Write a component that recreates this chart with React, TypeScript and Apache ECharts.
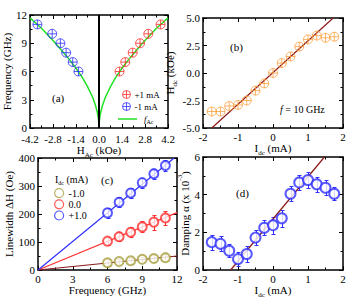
import React, { useEffect, useRef } from 'react';
import * as echarts from 'echarts';

// ---------- Panel (a) ----------
const plusH = [1.25, 1.6, 2.05, 2.5, 3.0, 3.75];
const plusF = [6, 7, 8, 9, 10, 11];
const minusH = [-3.75, -2.85, -2.35, -2.0, -1.6, -1.25];
const minusF = [11, 10, 9, 8, 7, 6];
const curveH = [-4.2, -3.5, -2.8, -2.2, -1.8, -1.4, -1.0, -0.7, -0.4, -0.2, -0.1, -0.05, -0.02, 0, 0.02, 0.05, 0.1, 0.2, 0.4, 0.7, 1.0, 1.4, 1.8, 2.2, 2.8, 3.5, 4.2];
const curveF = [11.7, 10.6, 9.3, 8.1, 7.26, 6.34, 5.32, 4.4, 3.32, 2.33, 1.64, 1.16, 0.73, 0, 0.73, 1.16, 1.64, 2.33, 3.32, 4.4, 5.32, 6.34, 7.26, 8.1, 9.3, 10.6, 11.7];
const zeroLineH = [0, 0];
const zeroLineF = [0, 12];

// ---------- Panel (b) ----------
const idcB = [-1.75, -1.5, -1.25, -1.0, -0.75, -0.5, -0.25, 0, 0.25, 0.5, 0.75, 1.0, 1.25, 1.5, 1.75];
const hdcB = [-3.5, -3.5, -3.0, -2.9, -2.5, -1.6, -0.95, 0.0, 0.9, 1.5, 2.4, 3.05, 3.4, 3.2, 3.3];
const fitBx = [-1.75, 1.72];
const fitBy = [-5, 5];

// ---------- Panel (c) ----------
const freqC = [6, 7, 8, 9, 10, 11];
const lwMinus = [26, 30, 33, 38, 41, 44];
const lwMinusErr = [12, 10, 10, 10, 12, 12];
const lwZero = [103, 119, 135, 154, 171, 186];
const lwZeroErr = [15, 15, 18, 20, 27, 25];
const lwPlus = [204, 242, 275, 312, 344, 373];
const lwPlusErr = [18, 18, 18, 18, 18, 20];
const fitCx = [0, 12];
const fitMinusY = [0, 50];
const fitZeroY = [0, 205];
const fitPlusX = [0, 11.75];
const fitPlusY = [0, 400];

// ---------- Panel (d) ----------
const idcD = [-1.75, -1.5, -1.25, -1.0, -0.75, -0.5, -0.25, 0, 0.25, 0.5, 0.75, 1.0, 1.25, 1.5, 1.75];
const alphaD = [1.48, 1.39, 1.02, 0.58, 0.85, 1.72, 2.24, 2.38, 2.75, 4.05, 4.65, 4.78, 4.55, 4.37, 4.05];
const alphaErr = [0.4, 0.4, 0.35, 0.35, 0.4, 0.4, 0.4, 0.45, 0.45, 0.4, 0.4, 0.4, 0.4, 0.4, 0.35];
const fitDx = [-1.21, 1.47];
const fitDy = [0, 6];

const FONT = 'Liberation Serif';
const RED = '#ff3030';
const BLUE = '#3030ff';
const GREEN = '#22e022';
const ORANGE = '#ffa040';
const OLIVE = '#a8a040';
const DARKRED = '#8b1a1a';
const CROSS = 'path://M10,0A10,10,0,1,1,10,20A10,10,0,1,1,10,0ZM0,10L20,10M10,0L10,20';
const RING = 'path://M10,0A10,10,0,1,1,10,20A10,10,0,1,1,10,0Z';

const zip = (a: number[], b: number[]) => a.map((v, i) => [v, b[i]]);

const nameRich = {
  n: { fontSize: 11, fontFamily: FONT, color: '#000', verticalAlign: 'top' as const, lineHeight: 13 },
  s: { fontSize: 7, fontFamily: FONT, color: '#000', verticalAlign: 'top' as const, padding: [7, 0, 0, 0], lineHeight: 8 },
  np: { fontSize: 11, fontFamily: FONT, color: '#000', verticalAlign: 'top' as const, padding: [3, 0, 0, 0], lineHeight: 13 },
  sup: { fontSize: 7, fontFamily: FONT, color: '#000', verticalAlign: 'top' as const, lineHeight: 8 },
};

function fmt1(v: number) {
  if (Math.abs(v) < 1e-9) return '0.0';
  return v.toFixed(1);
}

function mkAxis(gridIndex: number, pos: string, min: number, max: number, interval: number, extra: any = {}) {
  const main = pos === 'bottom' || pos === 'left';
  return {
    type: 'value',
    gridIndex,
    position: pos,
    min,
    max,
    interval,
    axisLine: { show: true, onZero: false, lineStyle: { color: '#000', width: 1.5 } },
    axisTick: { show: true, inside: true, length: 4, lineStyle: { color: '#000', width: 1 } },
    minorTick: { show: true, splitNumber: 2, length: 2.5, lineStyle: { color: '#000', width: 1 } },
    splitLine: { show: false },
    minorSplitLine: { show: false },
    axisLabel: { show: main, fontFamily: FONT, fontSize: 11, color: '#000', margin: 3 },
    nameLocation: 'middle',
    nameTextStyle: { rich: nameRich },
    ...extra,
  };
}

function errorBars(xi: number, xs: number[], ys: number[], errs: number[], color: string) {
  return {
    type: 'custom',
    xAxisIndex: xi,
    yAxisIndex: xi,
    silent: true,
    z: 2,
    data: xs.map((x, i) => [x, ys[i] - errs[i], ys[i] + errs[i]]),
    encode: { x: 0, y: [1, 2] },
    renderItem: (_p: any, api: any) => {
      const x = api.value(0);
      const lo = api.coord([x, api.value(1)]);
      const hi = api.coord([x, api.value(2)]);
      const cx = Math.round(lo[0]) + 0.5;
      const y1 = Math.round(lo[1]) + 0.5;
      const y2 = Math.round(hi[1]) + 0.5;
      const w = 2;
      const st = { stroke: color, lineWidth: 1 };
      return {
        type: 'group',
        children: [
          { type: 'line', shape: { x1: cx, y1, x2: cx, y2 }, style: st },
          { type: 'line', shape: { x1: cx - w, y1, x2: cx + w, y2: y1 }, style: st },
          { type: 'line', shape: { x1: cx - w, y1: y2, x2: cx + w, y2 }, style: st },
        ],
      };
    },
  };
}

function lineSeries(name: string, xi: number, data: number[][], color: string, width: number, z = 3) {
  return {
    name,
    type: 'line',
    xAxisIndex: xi,
    yAxisIndex: xi,
    data,
    symbol: 'none',
    showSymbol: false,
    lineStyle: { color, width },
    itemStyle: { color },
    z,
    silent: true,
  };
}

function crossScatter(name: string, xi: number, data: number[][], color: string) {
  return {
    name,
    type: 'scatter',
    xAxisIndex: xi,
    yAxisIndex: xi,
    data,
    symbol: CROSS,
    symbolSize: 9,
    symbolKeepAspect: true,
    itemStyle: { color: 'rgba(0,0,0,0)', borderColor: color, borderWidth: 1 },
    z: 5,
  };
}

function circleScatter(name: string, xi: number, data: number[][], color: string, size = 9) {
  return {
    name,
    type: 'scatter',
    xAxisIndex: xi,
    yAxisIndex: xi,
    data,
    symbol: 'emptyCircle',
    symbolSize: size,
    itemStyle: { color, borderColor: color, borderWidth: 1.2 },
    z: 5,
  };
}

export default function App() {
  const ref = useRef<HTMLDivElement>(null);
  useEffect(() => {
    document.body.style.margin = '0';
    if (!ref.current) return;
    const chart = echarts.init(ref.current, null, { renderer: 'svg' });
    const option: any = {
      animation: false,
      backgroundColor: '#fff',
      grid: [
        { left: 30, top: 15, width: 138, height: 113 },
        { left: 203, top: 18, width: 140, height: 110 },
        { left: 38, top: 158, width: 139, height: 112 },
        { left: 203, top: 157, width: 140, height: 113 },
      ],
      xAxis: [
        mkAxis(0, 'bottom', -4.2, 4.2, 1.4, {
          axisLabel: { show: true, fontFamily: FONT, fontSize: 11, color: '#000', margin: 5, formatter: fmt1 },
          name: '{n|H}{s|Ac}{n| (kOe)}', nameGap: 15,
        }),
        mkAxis(1, 'bottom', -2, 2, 1, { name: '{n|I}{s|dc}{n| (mA)}', nameGap: 14 }),
        mkAxis(2, 'bottom', 0, 12, 3, { name: '{n|Frequency (GHz)}', nameGap: 12 }),
        mkAxis(3, 'bottom', -2, 2, 1, { name: '{n|I}{s|dc}{n| (mA)}', nameGap: 12 }),
        mkAxis(0, 'top', -4.2, 4.2, 1.4),
        mkAxis(1, 'top', -2, 2, 1),
        mkAxis(2, 'top', 0, 12, 3),
        mkAxis(3, 'top', -2, 2, 1),
      ],
      yAxis: [
        mkAxis(0, 'left', 0, 12, 3, { name: '{n|Frequency (GHz)}', nameGap: 13 }),
        mkAxis(1, 'left', -5, 5, 2.5, {
          axisLabel: { show: true, fontFamily: FONT, fontSize: 11, color: '#000', margin: 3, formatter: fmt1 },
          name: '{n|H}{s|dc}{n| (kOe)}', nameGap: 25,
        }),
        mkAxis(2, 'left', 0, 400, 100, { name: '{n|Linewidth ΔH (Oe)}', nameGap: 21 }),
        mkAxis(3, 'left', 0, 6, 2, { name: '{np|Damping α (x 10}{sup|-3}{np|)}', nameGap: 11 }),
        mkAxis(0, 'right', 0, 12, 3),
        mkAxis(1, 'right', -5, 5, 2.5),
        mkAxis(2, 'right', 0, 400, 100),
        mkAxis(3, 'right', 0, 6, 2),
      ],
      legend: [
        {
          data: ['+1 mA', '-1 mA'],
          orient: 'vertical',
          left: 122,
          top: 90,
          itemWidth: 8,
          itemHeight: 8,
          itemGap: 3,
          padding: 0,
          itemStyle: { borderWidth: 1 },
          textStyle: { fontFamily: FONT, fontSize: 9, color: '#000', padding: [0, 0, 0, -1] },
          selectedMode: false,
        },
        {
          data: [{ name: 'fAc', icon: 'rect' }],
          left: 118,
          top: 114,
          itemWidth: 19,
          itemHeight: 1.5,
          padding: 0,
          formatter: () => '{i|f}{s|Ac}',
          textStyle: {
            color: '#000',
            padding: [0, 0, 0, 2],
            rich: {
              i: { fontSize: 9, fontFamily: FONT, fontStyle: 'italic', verticalAlign: 'top', lineHeight: 10 },
              s: { fontSize: 6, fontFamily: FONT, verticalAlign: 'top', padding: [5, 0, 0, 0], lineHeight: 6 },
            },
          },
          selectedMode: false,
        },
        {
          data: [
            { name: '-1.0', icon: RING },
            { name: '0.0', icon: RING },
            { name: '+1.0', icon: RING },
          ],
          orient: 'vertical',
          left: 54,
          top: 188,
          itemWidth: 9,
          itemHeight: 9,
          itemGap: 1,
          padding: 0,
          itemStyle: { color: 'rgba(0,0,0,0)', borderWidth: 1.2 },
          textStyle: { fontFamily: FONT, fontSize: 10, color: '#000' },
          selectedMode: false,
        },
      ],
      graphic: [
        { type: 'text', left: 52, top: 92, style: { text: '(a)', font: `11px "${FONT}"`, fill: '#000' } },
        { type: 'text', left: 230, top: 41, style: { text: '(b)', font: `11px "${FONT}"`, fill: '#000' } },
        {
          type: 'text', left: 280, top: 104,
          style: {
            text: '{i|f}{n| = 10 GHz}',
            rich: {
              i: { fontSize: 10, fontFamily: FONT, fontStyle: 'italic', fill: '#000' },
              n: { fontSize: 10, fontFamily: FONT, fill: '#000' },
            },
          },
        },
        { type: 'text', left: 101, top: 174, style: { text: '(c)', font: `11px "${FONT}"`, fill: '#000' } },
        { type: 'text', left: 236, top: 187, style: { text: '(d)', font: `11px "${FONT}"`, fill: '#000' } },
        {
          type: 'text', left: 55, top: 174,
          style: {
            text: '{n|I}{s|dc}{n| (mA)}',
            rich: {
              n: { fontSize: 10, fontFamily: FONT, fill: '#000', verticalAlign: 'top', lineHeight: 12 },
              s: { fontSize: 6, fontFamily: FONT, fill: '#000', verticalAlign: 'top', padding: [6, 0, 0, 0], lineHeight: 6 },
            },
          },
        },
      ],
      series: [
        // (a)
        lineSeries('fAc', 0, zip(curveH, curveF), GREEN, 1.5, 3),
        lineSeries('zero', 0, zip(zeroLineH, zeroLineF), '#000', 2, 4),
        crossScatter('+1 mA', 0, zip(plusH, plusF), RED),
        crossScatter('-1 mA', 0, zip(minusH, minusF), BLUE),
        // (b)
        lineSeries('fitB', 1, zip(fitBx, fitBy), DARKRED, 1.2, 3),
        crossScatter('hdc', 1, zip(idcB, hdcB), ORANGE),
        // (c)
        lineSeries('fitCm', 2, zip(fitCx, fitMinusY), DARKRED, 1.2, 3),
        lineSeries('fitC0', 2, zip(fitCx, fitZeroY), RED, 1.2, 3),
        lineSeries('fitCp', 2, zip(fitPlusX, fitPlusY), BLUE, 1.2, 3),
        errorBars(2, freqC, lwMinus, lwMinusErr, OLIVE),
        errorBars(2, freqC, lwZero, lwZeroErr, RED),
        errorBars(2, freqC, lwPlus, lwPlusErr, BLUE),
        circleScatter('-1.0', 2, zip(freqC, lwMinus), OLIVE),
        circleScatter('0.0', 2, zip(freqC, lwZero), RED),
        circleScatter('+1.0', 2, zip(freqC, lwPlus), BLUE),
        // (d)
        lineSeries('fitD', 3, zip(fitDx, fitDy), DARKRED, 1.2, 3),
        errorBars(3, idcD, alphaD, alphaErr, BLUE),
        circleScatter('alpha', 3, zip(idcD, alphaD), BLUE, 10),
      ],
    };
    chart.setOption(option);
    return () => chart.dispose();
  }, []);
  return <div ref={ref} style={{ width: 354, height: 306 }} />;
}
